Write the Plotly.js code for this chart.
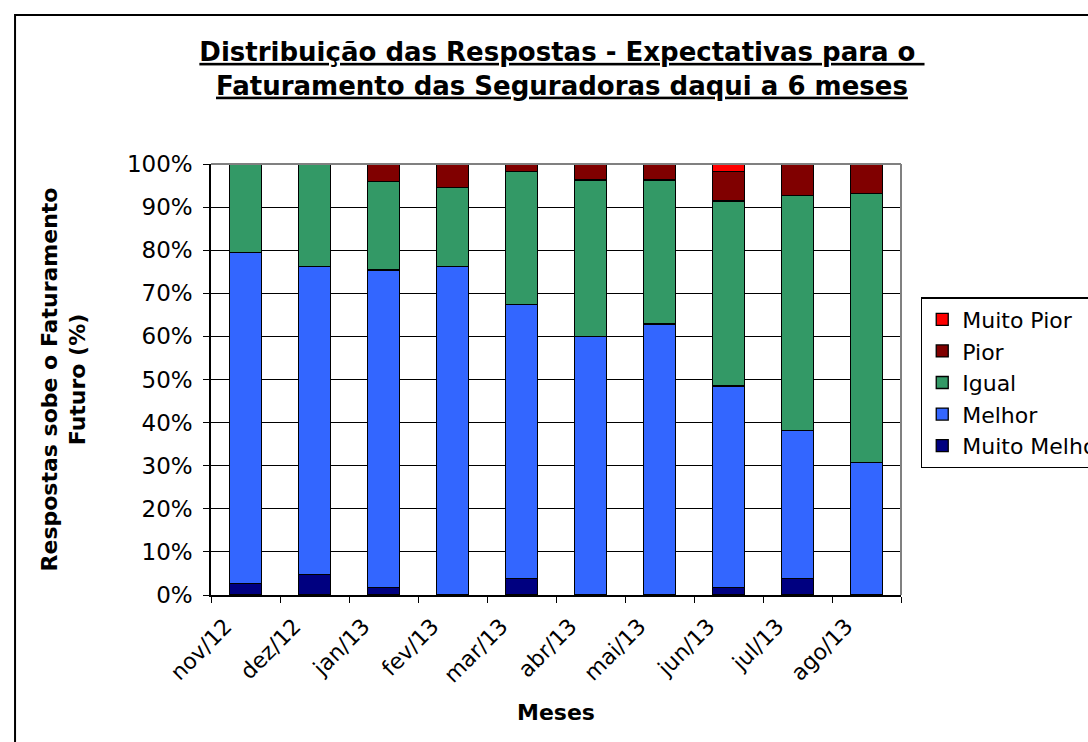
<!DOCTYPE html>
<html>
<head>
<meta charset="utf-8">
<script src="https://cdn.plot.ly/plotly-3.0.1.min.js"></script>
<style>
html,body{margin:0;padding:0;background:#fff;}
#chart{width:1088px;height:742px;}
</style>
</head>
<body>
<div id="chart"></div>
<script>
const months = ["nov/12","dez/12","jan/13","fev/13","mar/13","abr/13","mai/13","jun/13","jul/13","ago/13"];
const muitoMelhor = [2.7, 4.8, 1.8, 0, 3.8, 0, 0, 1.8, 3.8, 0];
const melhor      = [76.8, 71.4, 73.6, 76.3, 63.6, 60.0, 62.9, 46.7, 34.3, 30.7];
const igual       = [20.5, 23.8, 20.5, 18.2, 30.8, 36.3, 33.4, 42.9, 54.6, 62.4];
const pior        = [0, 0, 4.1, 5.5, 1.8, 3.7, 3.7, 6.8, 7.3, 6.9];
const muitoPior   = [0, 0, 0, 0, 0, 0, 0, 1.8, 0, 0];

const seriesNames  = ["Muito Melhor","Melhor","Igual","Pior","Muito Pior"];
const seriesValues = [muitoMelhor, melhor, igual, pior, muitoPior];
const seriesColors = ["#000080","#3366FF","#339966","#800000","#FF0000"];

const FONT = "DejaVu Sans, Verdana, sans-serif";

const traces = seriesNames.map((n, i) => ({
  type: "bar",
  name: n,
  x: months,
  y: seriesValues[i].map(v => v === 0 ? null : v / 100),
  marker: {color: seriesColors[i], line: {color: "#000", width: 1.3}},
  hoverinfo: "name+y"
}));

const layout = {
  width: 1088, height: 742,
  margin: {l: 211, r: 187, t: 164, b: 147, autoexpand: false},
  paper_bgcolor: "#fff", plot_bgcolor: "#fff",
  barmode: "stack",
  bargap: 0.53,
  font: {family: FONT, color: "#000", size: 22},
  title: {
    text: "<b><u>Distribuição das Respostas - Expectativas para o </u></b><br><b><u>Faturamento das Seguradoras daqui a 6 meses</u></b>",
    font: {family: FONT, size: 26, color: "#000"},
    xref: "container", x: 0.5165, xanchor: "center",
    yref: "container", y: 0.918, yanchor: "middle"
  },
  xaxis: {
    type: "category",
    showline: true, linecolor: "#000", linewidth: 1.5,
    ticks: "outside", ticklen: 6, tickcolor: "#000", tickwidth: 1.3,
    tickson: "boundaries",
    tickangle: -45,
    ticklabelshift: -20,
    ticklabelstandoff: 8,
    tickfont: {family: FONT, size: 22, color: "#000"},
    showgrid: false,
    title: {text: "<b>Meses</b>", font: {family: FONT, size: 22, color: "#000"}, standoff: 18}
  },
  yaxis: {
    range: [0, 1],
    tickvals: [0,0.1,0.2,0.3,0.4,0.5,0.6,0.7,0.8,0.9,1],
    ticktext: ["0%","10%","20%","30%","40%","50%","60%","70%","80%","90%","100%"],
    showline: true, linecolor: "#000", linewidth: 1.5,
    ticks: "outside", ticklen: 6, tickcolor: "#000", tickwidth: 1.3,
    ticklabelstandoff: 6,
    tickfont: {family: FONT, size: 23, color: "#000"},
    showgrid: true, gridcolor: "#000", gridwidth: 1.3,
    zeroline: false,
    title: {text: "<b>Respostas sobe o Faturamento<br>Futuro (%)</b>", font: {family: FONT, size: 22, color: "#000"}, standoff: 35}
  },
  legend: {
    x: 1.0286, xanchor: "left",
    y: 0.6914, yanchor: "top",
    bordercolor: "#000", borderwidth: 1.5,
    bgcolor: "#fff",
    font: {family: FONT, size: 22, color: "#000"},
    tracegroupgap: 0,
    itemwidth: 30
  },
  shapes: [
    {type: "line", xref: "paper", yref: "paper", x0: 0, x1: 1, y0: 1, y1: 1, line: {color: "#808080", width: 2}},
    {type: "line", xref: "paper", yref: "paper", x0: 1, x1: 1, y0: 0, y1: 1, line: {color: "#808080", width: 2}},
    {type: "rect", xref: "paper", yref: "paper", x0: -0.284, x1: 1.4, y0: -0.5, y1: 1.3457, line: {color: "#000", width: 2}, fillcolor: "rgba(0,0,0,0)", layer: "below"}
  ],
  showlegend: true
};

Plotly.newPlot("chart", traces, layout, {displayModeBar: false});
</script>
</body>
</html>
